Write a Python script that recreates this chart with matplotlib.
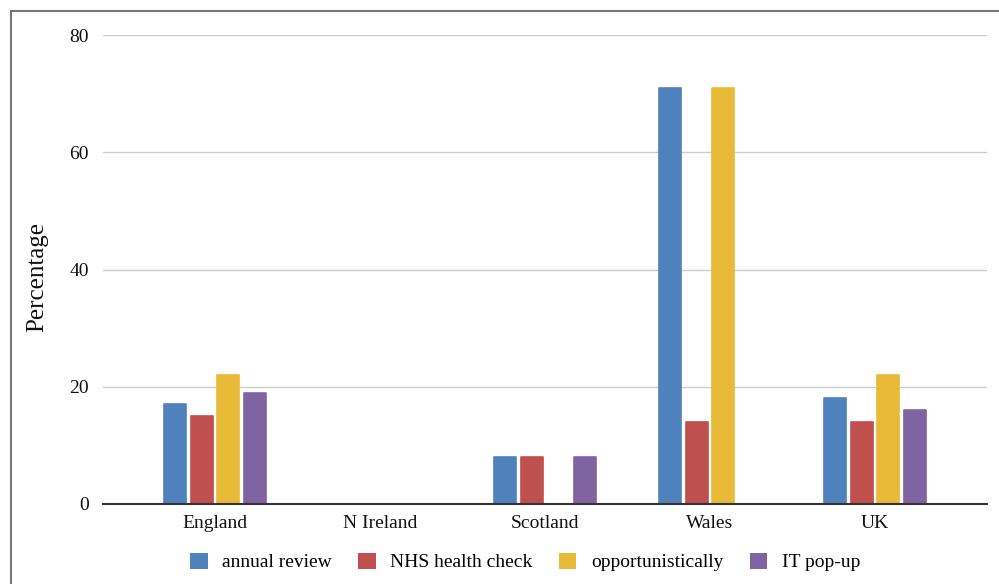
import matplotlib
matplotlib.use("Agg")
import matplotlib.pyplot as plt
import numpy as np
from matplotlib.patches import Patch, Rectangle

categories = ["England", "N Ireland", "Scotland", "Wales", "UK"]
series_names = ["annual review", "NHS health check", "opportunistically", "IT pop-up"]
annual_review = [17, 0, 8, 71, 18]
nhs_health_check = [15, 0, 8, 14, 14]
opportunistically = [22, 0, 0, 71, 22]
it_pop_up = [19, 0, 8, 0, 16]
y_ticks = [0, 20, 40, 60, 80]

series = [annual_review, nhs_health_check, opportunistically, it_pop_up]
colors = ["#4f81bd", "#c0504d", "#e8ba37", "#8064a2"]

plt.rcParams['font.family'] = ['Liberation Serif', 'DejaVu Serif']

fig = plt.figure(figsize=(9.99, 5.84), dpi=100)
ax = fig.add_axes([103/999, 1-504/584, (987-103)/999, (504-35)/584])

x = np.arange(len(categories))
step = 0.16
width = 0.134
for i, (vals, c) in enumerate(zip(series, colors)):
    bars = ax.bar(x + (i - 1.5) * step, vals, width=width, color=c, zorder=3,
                  edgecolor=c, linewidth=1.2, label=series_names[i])
    for b in bars:
        b.set_joinstyle('round')

ax.set_xlim(-0.679, 4.679)
ax.set_ylim(0, 80)
ax.set_yticks(y_ticks)
ax.set_xticks(x)
ax.set_xticklabels(categories)
ax.tick_params(axis='both', length=0, labelsize=14, colors='#111111')
ax.tick_params(axis='y', pad=10)
ax.tick_params(axis='x', pad=8)
ax.grid(axis='y', color='#cccccc', linewidth=1.0, zorder=0)
for s in ['top', 'right', 'left']:
    ax.spines[s].set_visible(False)
ax.spines['bottom'].set_color('#333333')
ax.spines['bottom'].set_linewidth(1.5)
ax.spines['bottom'].set_zorder(4)

fig.text(37/999, 1-277/584, "Percentage", rotation=90, ha='center', va='center', fontsize=18, color='#111111')

handles = [Patch(facecolor=c, edgecolor='none') for c in colors]
fig.legend(handles, series_names, loc='center', bbox_to_anchor=(525/999, 1-562/584),
           ncol=4, frameon=False, fontsize=14, handlelength=0.9, handleheight=0.9,
           handletextpad=0.75, columnspacing=1.35)

fig.patches.append(Rectangle((11/999, -0.1), 1.2, 1-11/584 + 0.1, transform=fig.transFigure,
                             fill=False, edgecolor='#777777', linewidth=1.5))

fig.savefig("out.png", dpi=100)
